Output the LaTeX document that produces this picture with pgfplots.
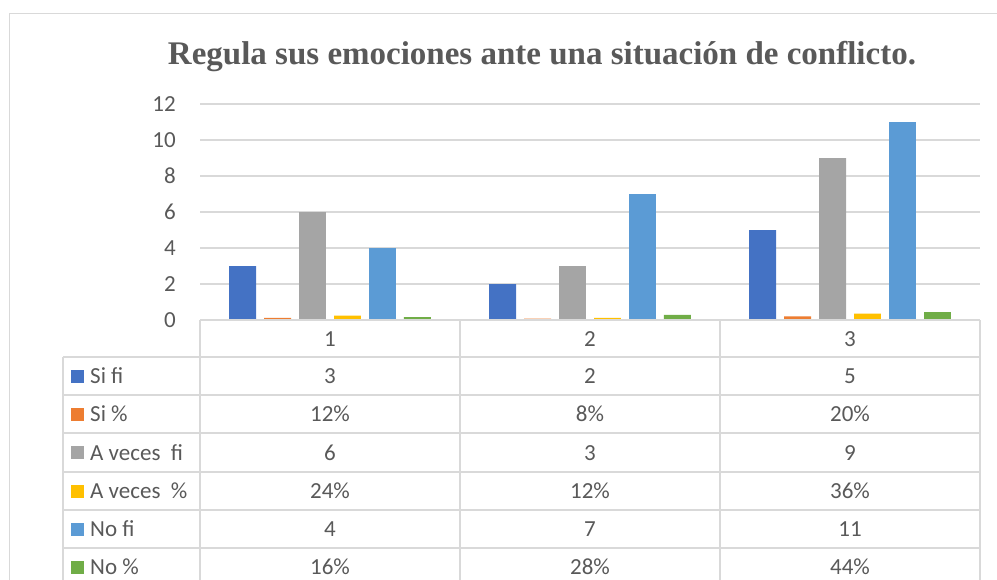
\documentclass[border=0pt]{standalone}
\usepackage{fontspec}
\setmainfont{Carlito}
\newfontfamily\titlefont{Liberation Serif}
\usepackage{pgfplots}
\usepackage{pgfplotstable}
\pgfplotsset{compat=1.18}
\definecolor{cSifi}{HTML}{4472C4}
\definecolor{cSip}{HTML}{ED7D31}
\definecolor{cAvfi}{HTML}{A5A5A5}
\definecolor{cAvp}{HTML}{FFC000}
\definecolor{cNofi}{HTML}{5B9BD5}
\definecolor{cNop}{HTML}{70AD47}
\definecolor{gridc}{HTML}{D9D9D9}
\definecolor{txt}{HTML}{595959}

\pgfplotstableread{
cat sifi sip avfi avp nofi nop
1 3 0.12 6 0.24 4 0.16
2 2 0.08 3 0.12 7 0.28
3 5 0.20 9 0.36 11 0.44
}\data

\newcommand{\tf}{\fontsize{23}{27}\selectfont}

\begin{document}
\begin{tikzpicture}
\path[use as bounding box] (0pt,0pt) rectangle (997pt,-579pt);
\begin{scope}
\clip (0pt,0pt) rectangle (997pt,-579pt);
\draw[gridc, line width=1.5pt] (9.5pt,-600pt) -- (9.5pt,-13.5pt) -- (1000pt,-13.5pt);
\end{scope}
\node[text=txt, font=\titlefont\bfseries\fontsize{33}{36}\selectfont, anchor=base, inner sep=0pt] at (542pt,-64pt) {Regula sus emociones ante una situación de conflicto.};
\begin{axis}[
  at={(200pt,-320pt)}, anchor=south west,
  scale only axis, width=780pt, height=216pt,
  xmin=0.5, xmax=3.5, ymin=0, ymax=12,
  ytick={0,2,...,12}, xtick=\empty,
  ymajorgrids, grid style={draw=gridc, line width=1.5pt},
  axis line style={draw=none}, major tick length=0pt,
  /pgf/number format/assume math mode=true,
  yticklabel style={font=\tf, text=txt, inner sep=0pt, anchor=east, xshift=-24pt},
  ybar, bar width=0.1038,
  every axis plot/.append style={draw=none, bar shift=0pt},
]
\addplot[fill=cSifi] table[x expr=\thisrow{cat}-0.3365, y=sifi] {\data};
\addplot[fill=cSip] table[x expr=\thisrow{cat}-0.2019, y=sip] {\data};
\addplot[fill=cAvfi] table[x expr=\thisrow{cat}-0.0673, y=avfi] {\data};
\addplot[fill=cAvp] table[x expr=\thisrow{cat}+0.0673, y=avp] {\data};
\addplot[fill=cNofi] table[x expr=\thisrow{cat}+0.2019, y=nofi] {\data};
\addplot[fill=cNop] table[x expr=\thisrow{cat}+0.3365, y=nop] {\data};
\end{axis}
\begin{scope}
\clip (0pt,0pt) rectangle (997pt,-579pt);
\draw[gridc, line width=1.5pt] (200pt,-320pt) -- (980pt,-320pt);
\foreach \yy in {357,395,433,472,510,548}
  \draw[gridc, line width=1.5pt] (63pt,-\yy pt) -- (980pt,-\yy pt);
\draw[gridc, line width=1.5pt] (63pt,-357pt) -- (63pt,-600pt);
\foreach \xx in {200,460,720,980}
  \draw[gridc, line width=1.5pt] (\xx pt,-320pt) -- (\xx pt,-600pt);
% header
\foreach \c/\xx in {1/330,2/590,3/850}
  \node[font=\tf, text=txt, anchor=base, inner sep=0pt] at (\xx pt,-346pt) {\c};
% legend keys and labels
\foreach \col/\lab/\yc in {cSifi/Si fi/376, cSip/Si \%/414, cAvfi/A veces~~fi/452.5, cAvp/A veces~~\%/491, cNofi/No fi/529, cNop/No \%/567}{
  \fill[\col] (71pt,-\yc pt+6.5pt) rectangle (84pt,-\yc pt-6.5pt);
  \node[font=\tf, text=txt, anchor=base west, inner sep=0pt] at (90pt,-\yc pt-7.5pt) {\lab};
}
% values
\foreach \yc/\a/\b/\c in {376/3/2/5, 414/12\%/8\%/20\%, 452.5/6/3/9, 491/24\%/12\%/36\%, 529/4/7/11, 567/16\%/28\%/44\%}{
  \node[font=\tf, text=txt, anchor=base, inner sep=0pt] at (330pt,-\yc pt-7.5pt) {\a};
  \node[font=\tf, text=txt, anchor=base, inner sep=0pt] at (590pt,-\yc pt-7.5pt) {\b};
  \node[font=\tf, text=txt, anchor=base, inner sep=0pt] at (850pt,-\yc pt-7.5pt) {\c};
}
\end{scope}
\end{tikzpicture}
\end{document}
